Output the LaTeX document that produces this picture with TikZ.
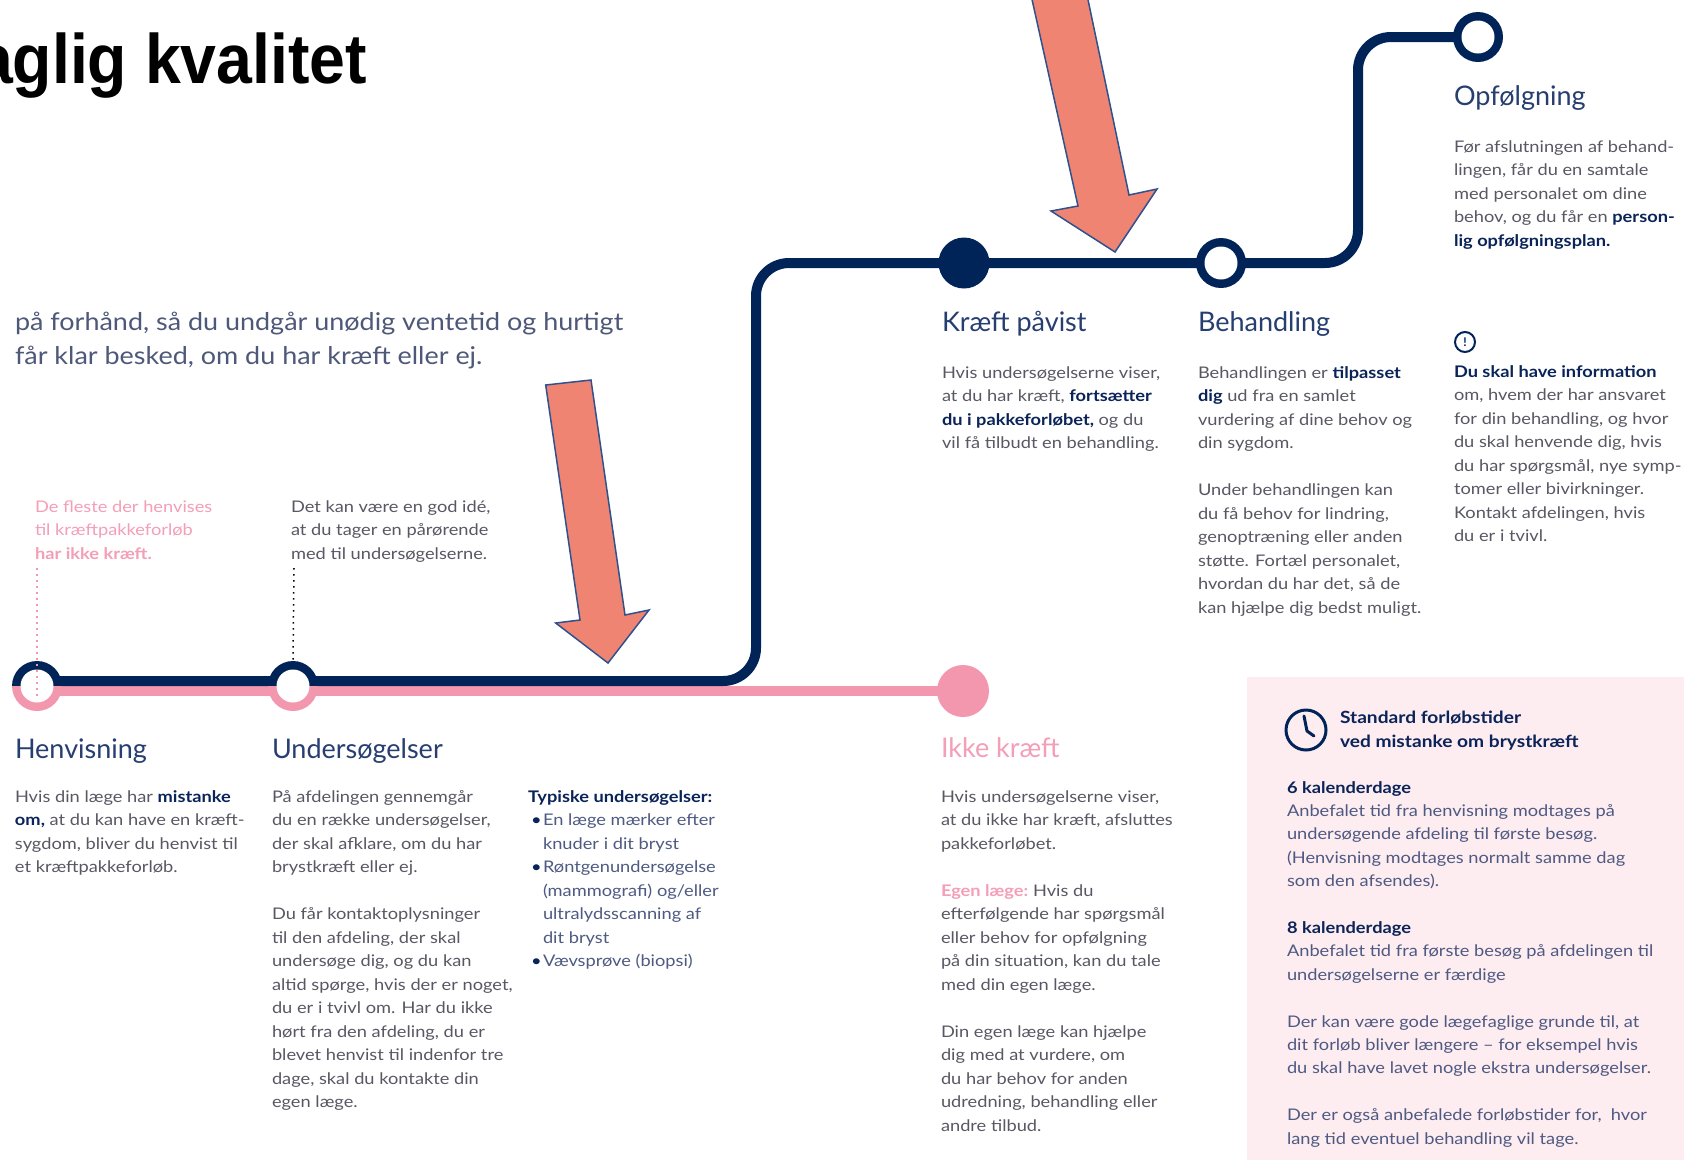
\documentclass[tikz,border=0pt]{standalone}
\usepackage{fontspec}
\setmainfont{Lato}
\newfontfamily\bodyfam{Lato}[FakeStretch=1.14]
\newfontfamily\introfam{Lato}[FakeStretch=1.10]
\newfontfamily\titlefont{Liberation Sans}
\usetikzlibrary{calc,backgrounds}
\definecolor{navy}{RGB}{0,35,88}
\definecolor{pinkl}{RGB}{243,151,175}
\definecolor{headc}{RGB}{38,62,112}
\definecolor{bodyc}{RGB}{88,88,100}
\definecolor{itemc}{RGB}{78,90,130}
\definecolor{boldc}{RGB}{10,35,88}
\definecolor{pinktxt}{RGB}{244,158,184}
\definecolor{pinkbg}{RGB}{253,236,240}
\definecolor{arrowfill}{RGB}{240,132,115}
\definecolor{arrowline}{RGB}{47,82,143}
\definecolor{introc}{RGB}{78,88,120}
\newcommand\bnav[1]{{\bfseries\color{boldc}#1}}
\newcommand\bpink[1]{{\bfseries\color{pinktxt}#1}}
\newcommand\txtblock[1]{\parbox[t]{800pt}{\raggedright\leavevmode #1}}
\newcommand\itm{\hspace*{3pt}\makebox[12pt][l]{\color{boldc}\textbullet}}
\tikzset{
  every node/.style={inner sep=0pt, outer sep=0pt},
  headtxt/.style={anchor=base west, text=headc, font=\fontsize{27}{30}\selectfont},
  bodytxt/.style={anchor=base west, text=bodyc, font=\bodyfam\fontsize{16}{23.5}\selectfont},
  navyline/.style={draw=navy, line width=10pt, rounded corners=33pt},
  pinkpath/.style={draw=pinkl, line width=10pt},
  ringnavy/.style={circle, minimum size=50pt, fill=navy,
    path picture={\fill[white] (path picture bounding box.center) circle (16.5pt);}},
  ringsplit/.style={circle, minimum size=50pt,
    path picture={
      \fill[navy] (path picture bounding box.north west) rectangle (path picture bounding box.east);
      \fill[pinkl] (path picture bounding box.west) rectangle (path picture bounding box.south east);
      \fill[white] (path picture bounding box.center) circle (16.5pt);}},
  dotnavy/.style={circle, minimum size=51pt, fill=navy},
  dotpink/.style={circle, minimum size=52pt, fill=pinkl},
  fatarrow/.style={fill=arrowfill, draw=arrowline, line width=1.5pt, line join=miter},
  guide/.style={line width=1.5pt, dash pattern=on 1.5pt off 4.5pt},
}
\begin{document}
\begin{tikzpicture}[x=1pt,y=-1pt]
\useasboundingbox (0,0) rectangle (1684,1160);

% stations
\node[ringsplit] (henv) at (37,686) {};
\node[ringsplit] (unds) at (293,686) {};
\node[dotpink] (ikke) at (963,691) {};
\node[dotnavy] (kp) at (964,263) {};
\node[ringnavy] (beh) at (1221,263) {};
\node[ringnavy] (opf) at (1478,37) {};

\begin{pgfonlayer}{background}
\fill[white] (0,0) rectangle (1684,1160);
\fill[pinkbg] (1247,677) rectangle (1684,1160);
\draw[pinkpath] ($(henv.center)+(0,5)$) -- (ikke.center);
\draw[navyline] ($(henv.center)+(0,-5)$) -- (756,681) -- (756,263) -- (kp.center) -- (beh.center) -- (1358,263) -- (1358,37) -- (opf.center);
\end{pgfonlayer}

% dotted guides
\coordinate (pinknoteend) at (37,568);
\coordinate (blacknoteend) at (294,568);
\draw[guide, draw=pinkl] (pinknoteend) -- ($(henv.center)+(0,14)$);
\draw[guide, draw=black] (blacknoteend) -- (unds.north);

% title
\node[anchor=base west, font=\titlefont\bfseries\fontsize{70}{70}\selectfont] (title) at (-23,83) {\scalebox{0.92}[1]{aglig kvalitet}};

% intro
\node[anchor=base west, text=introc, font=\introfam\fontsize{24.5}{34}\selectfont] (intro) at (15,330) {\txtblock{på forhånd, så du undgår unødig ventetid og hurtigt\\får klar besked, om du har kræft eller ej.}};

% notes
\node[bodytxt, text=pinktxt] (pinknote) at (35,512) {\txtblock{De fleste der henvises\\til kræftpakkeforløb\\{\bfseries har ikke kræft.}}};
\node[bodytxt] (relnote) at (291,512) {\txtblock{Det kan være en god idé,\\at du tager en pårørende\\med til undersøgelserne.}};

% headings
\node[headtxt] (h-henv) at (15,758) {Henvisning};
\node[headtxt] (h-unds) at (272,758) {Undersøgelser};
\node[headtxt, text=pinktxt] (h-ikke) at (941,757) {Ikke kræft};
\node[headtxt] (h-kp) at (942,331) {Kræft påvist};
\node[headtxt] (h-beh) at (1198,331) {Behandling};
\node[headtxt] (h-opf) at (1454,105) {Opfølgning};

% bodies
\node[bodytxt] (b-henv) at (15,802) {\txtblock{Hvis din læge har \bnav{mistanke}\\
\bnav{om,} at du kan have en kræft-\\
sygdom, bliver du henvist til\\
et kræftpakkeforløb.}};

\node[bodytxt] (b-unds) at (272,802) {\txtblock{På afdelingen gennemgår\\
du en række undersøgelser,\\
der skal afklare, om du har\\
brystkræft eller ej.\\[23.5pt]
Du får kontaktoplysninger\\
til den afdeling, der skal\\
undersøge dig, og du kan\\
altid spørge, hvis der er noget,\\
du er i tvivl om. Har du ikke\\
hørt fra den afdeling, du er\\
blevet henvist til indenfor tre\\
dage, skal du kontakte din\\
egen læge.}};

\node[bodytxt, text=itemc] (b-typ) at (528,802) {\txtblock{\bnav{Typiske undersøgelser:}\\
\itm En læge mærker efter\\
\hspace*{15pt}knuder i dit bryst\\
\itm Røntgenundersøgelse\\
\hspace*{15pt}(mammografi) og/eller\\
\hspace*{15pt}ultralydsscanning af\\
\hspace*{15pt}dit bryst\\
\itm Vævsprøve (biopsi)}};

\node[bodytxt] (b-ikke) at (941,802) {\txtblock{Hvis undersøgelserne viser,\\
at du ikke har kræft, afsluttes\\
pakkeforløbet.\\[23.5pt]
\bpink{Egen læge:}~Hvis du\\
efterfølgende har spørgsmål\\
eller behov for opfølgning\\
på din situation, kan du tale\\
med din egen læge.\\[23.5pt]
Din egen læge kan hjælpe\\
dig med at vurdere, om\\
du har behov for anden\\
udredning, behandling eller\\
andre tilbud.}};

\node[bodytxt] (b-kp) at (942,378) {\txtblock{Hvis undersøgelserne viser,\\
at du har kræft, \bnav{fortsætter}\\
\bnav{du i pakkeforløbet,} og du\\
vil få tilbudt en behandling.}};

\node[bodytxt] (b-beh) at (1198,378) {\txtblock{Behandlingen er \bnav{tilpasset}\\
\bnav{dig} ud fra en samlet\\
vurdering af dine behov og\\
din sygdom.\\[23.5pt]
Under behandlingen kan\\
du få behov for lindring,\\
genoptræning eller anden\\
støtte. Fortæl personalet,\\
hvordan du har det, så de\\
kan hjælpe dig bedst muligt.}};

\node[bodytxt] (b-opf) at (1454,152) {\txtblock{Før afslutningen af behand-\\
lingen, får du en samtale\\
med personalet om dine\\
behov, og du får en \bnav{person-}\\
\bnav{lig opfølgningsplan.}}};

% info icon and text
\node[circle, draw=navy, line width=2pt, minimum size=20pt, text=navy, font=\bfseries\fontsize{12}{12}\selectfont] (warn) at (1465,342) {!};
\node[bodytxt] (b-info) at (1454,377) {\txtblock{\bnav{Du skal have information}\\
om, hvem der har ansvaret\\
for din behandling, og hvor\\
du skal henvende dig, hvis\\
du har spørgsmål, nye symp-\\
tomer eller bivirkninger.\\
Kontakt afdelingen, hvis\\
du er i tvivl.}};

% clock
\node[circle, draw=navy, line width=3pt, minimum size=40pt] (clock) at (1306,730) {};
\draw[navy, line width=3pt, line cap=round, line join=round] ($(clock.center)+(-2,-14)$) -- ($(clock.center)+(1,1)$) -- ($(clock.center)+(8,6)$);
\node[bodytxt, text=boldc, font=\bodyfam\bfseries\fontsize{16.8}{24}\selectfont] (std) at (1340,723) {\txtblock{Standard forløbstider\\ved mistanke om brystkræft}};

\node[bodytxt, text=itemc, font=\bodyfam\fontsize{16}{23.4}\selectfont] (b-box) at (1287,793) {\txtblock{\bnav{6 kalenderdage}\\
Anbefalet tid fra henvisning modtages på\\
undersøgende afdeling til første besøg.\\
(Henvisning modtages normalt samme dag\\
som den afsendes).\\[23.4pt]
\bnav{8 kalenderdage}\\
Anbefalet tid fra første besøg på afdelingen til\\
undersøgelserne er færdige\\[23.4pt]
Der kan være gode lægefaglige grunde til, at\\
dit forløb bliver længere – for eksempel hvis\\
du skal have lavet nogle ekstra undersøgelser.\\[23.4pt]
Der er også anbefalede forløbstider for,\ \ hvor\\
lang tid eventuel behandling vil tage.}};

% red arrows
\draw[fatarrow] (545.7,385) -- (591,380) -- (625,615) -- (649,610) -- (608,663) -- (555.7,623) -- (580,620) -- cycle;
\draw[fatarrow] (1031,-5) -- (1087,-5) -- (1129,195) -- (1157,189) -- (1115,252) -- (1051,211) -- (1078,206) -- cycle;
\end{tikzpicture}
\end{document}
